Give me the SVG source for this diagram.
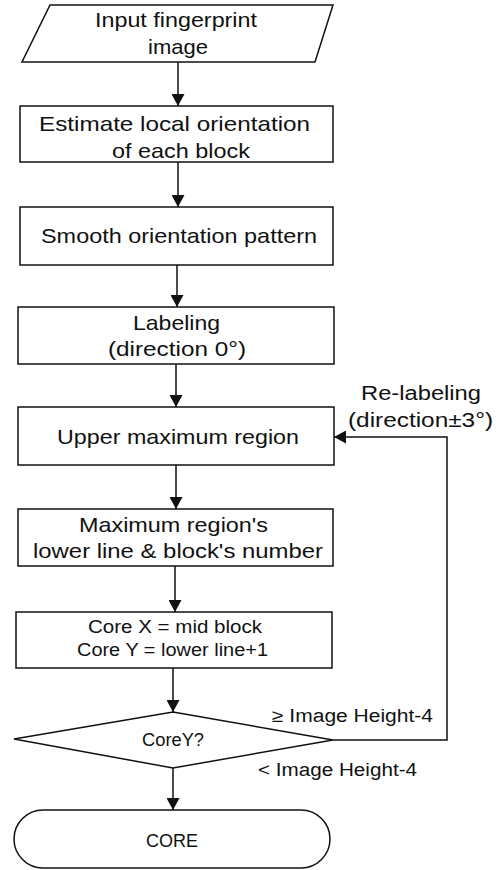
<svg xmlns="http://www.w3.org/2000/svg" width="499" height="870" viewBox="0 0 499 870">
<defs>
<style>
.n{fill:#fff;stroke:#111;stroke-width:1.5}
.c{fill:none;stroke:#111;stroke-width:1.5}
text{font-family:"Liberation Sans",Arial,sans-serif;fill:#111}
.t{font-size:21px}
.s{font-size:18px}
.r{font-size:20px}
</style>
<marker id="ah" markerUnits="userSpaceOnUse" markerWidth="12" markerHeight="13" refX="12" refY="6.5" orient="auto">
<path d="M0,0 L12,6.5 L0,13 z" fill="#111"/>
</marker>
</defs>
<rect width="499" height="870" fill="#fff"/>
<g id="input">
<polygon class="n" points="50,5 333,5 315,62 22,62"/>
<text class="t" x="95" y="27" textLength="162" lengthAdjust="spacingAndGlyphs">Input fingerprint</text>
<text class="t" x="148" y="54" textLength="60" lengthAdjust="spacingAndGlyphs">image</text>
</g>
<g id="estimate">
<rect class="n" x="20" y="106" width="313" height="56"/>
<text class="t" x="39" y="131" textLength="271" lengthAdjust="spacingAndGlyphs">Estimate local orientation</text>
<text class="t" x="112" y="158" textLength="138" lengthAdjust="spacingAndGlyphs">of each block</text>
</g>
<g id="smooth">
<rect class="n" x="20" y="207" width="313" height="58"/>
<text class="t" x="41" y="243" textLength="276" lengthAdjust="spacingAndGlyphs">Smooth orientation pattern</text>
</g>
<g id="labeling">
<rect class="n" x="18" y="307" width="316" height="57"/>
<text class="t" x="133" y="330" textLength="87" lengthAdjust="spacingAndGlyphs">Labeling</text>
<text class="t" x="108" y="356" textLength="138" lengthAdjust="spacingAndGlyphs">(direction 0°)</text>
</g>
<g id="upper">
<rect class="n" x="18" y="407" width="316" height="58"/>
<text class="t" x="57" y="444" textLength="242" lengthAdjust="spacingAndGlyphs">Upper maximum region</text>
</g>
<g id="maxregion">
<rect class="n" x="18" y="509" width="315" height="57"/>
<text class="t" x="79" y="532" textLength="189" lengthAdjust="spacingAndGlyphs">Maximum region's</text>
<text class="t" x="33" y="558" textLength="290" lengthAdjust="spacingAndGlyphs">lower line &amp; block's number</text>
</g>
<g id="core-xy">
<rect class="n" x="16" y="612" width="316" height="56"/>
<text class="s" x="88" y="633" textLength="174" lengthAdjust="spacingAndGlyphs">Core X = mid block</text>
<text class="s" x="77" y="656" textLength="191" lengthAdjust="spacingAndGlyphs">Core Y = lower line+1</text>
</g>
<g id="decision">
<polygon class="n" points="173,712 333,740 173,768 14,739"/>
<text class="s" x="142" y="746" textLength="62" lengthAdjust="spacingAndGlyphs">CoreY?</text>
</g>
<g id="core">
<rect class="n" x="14" y="810" width="316" height="58" rx="29" ry="29"/>
<text class="s" x="146" y="847" textLength="52" lengthAdjust="spacingAndGlyphs" style="font-size:19px">CORE</text>
</g>
<g id="connectors">
<line class="c" x1="178" y1="62" x2="178" y2="106" marker-end="url(#ah)"/>
<line class="c" x1="178" y1="162" x2="178" y2="207" marker-end="url(#ah)"/>
<line class="c" x1="177" y1="265" x2="177" y2="307" marker-end="url(#ah)"/>
<line class="c" x1="176" y1="364" x2="176" y2="407" marker-end="url(#ah)"/>
<line class="c" x1="176" y1="465" x2="176" y2="509" marker-end="url(#ah)"/>
<line class="c" x1="175" y1="566" x2="175" y2="612" marker-end="url(#ah)"/>
<line class="c" x1="173" y1="668" x2="173" y2="712" marker-end="url(#ah)"/>
<line class="c" x1="173" y1="768" x2="173" y2="810" marker-end="url(#ah)"/>
<polyline class="c" points="333,740 447,740 447,437 334,437" marker-end="url(#ah)"/>
<text class="r" x="361" y="400" textLength="120" lengthAdjust="spacingAndGlyphs">Re-labeling</text>
<text class="r" x="348" y="427" textLength="145" lengthAdjust="spacingAndGlyphs">(direction±3°)</text>
<text class="s" x="272" y="722" textLength="161" lengthAdjust="spacingAndGlyphs">≥ Image Height-4</text>
<text class="s" x="258" y="776" textLength="159" lengthAdjust="spacingAndGlyphs">&lt; Image Height-4</text>
</g>
</svg>
